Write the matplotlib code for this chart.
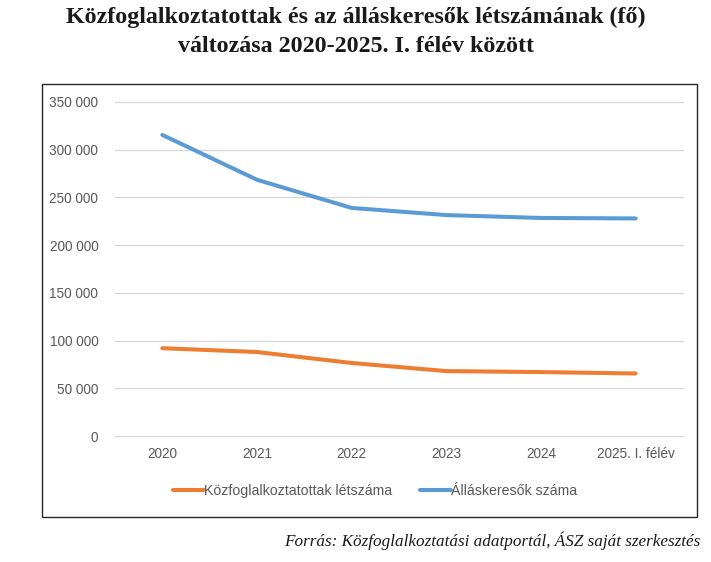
import matplotlib.pyplot as plt
from matplotlib.patches import Rectangle
from matplotlib.ticker import FuncFormatter, MultipleLocator

years = ["2020", "2021", "2022", "2023", "2024", "2025. I. félév"]
kozfoglalkoztatottak = [92000, 88000, 76500, 68000, 67000, 65500]
allaskeresok = [315500, 268500, 239000, 231500, 228500, 228000]

ORANGE = "#ED7D31"
BLUE = "#5B9BD5"
GRID = "#D9D9D9"
LABEL = "#595959"

fig = plt.figure(figsize=(7.11, 5.62), dpi=100)

# frame around the chart
fig.patches.append(Rectangle((42 / 711, 1 - 517 / 562), 655 / 711, 433 / 562,
                             transform=fig.transFigure, fill=False,
                             edgecolor="#262626", linewidth=1.0))

ax = fig.add_axes([115 / 711, 1 - 436 / 562, 568 / 711, 334 / 562])
x = range(len(years))
ax.plot(x, kozfoglalkoztatottak, color=ORANGE, linewidth=2.9,
        solid_capstyle="round", label="Közfoglalkoztatottak létszáma")
ax.plot(x, allaskeresok, color=BLUE, linewidth=2.9,
        solid_capstyle="round", label="Álláskeresők száma")

ax.set_xlim(-0.5, len(years) - 0.5)
ax.set_ylim(0, 350000)
ax.yaxis.set_major_locator(MultipleLocator(50000))
ax.yaxis.set_major_formatter(FuncFormatter(lambda v, p: f"{int(v):,}".replace(",", " ")))
ax.set_xticks(list(x))
ax.set_xticklabels(years)
ax.grid(axis="y", color=GRID, linewidth=1.0)
for gl in ax.get_ygridlines():
    gl.set_clip_on(False)
ax.set_axisbelow(True)
for s in ax.spines.values():
    s.set_visible(False)
ax.tick_params(length=0, labelsize=9.8, labelcolor=LABEL, pad=8)
ax.tick_params(axis="y", pad=12)
for t in ax.get_xticklabels() + ax.get_yticklabels():
    t.set_family("Liberation Sans")

leg = fig.legend(loc="center", bbox_to_anchor=(375 / 711, 1 - 491 / 562), ncol=2,
                 frameon=False, handlelength=2.2, handletextpad=0.0,
                 columnspacing=2.0, prop={"family": "Liberation Sans", "size": 10.2})
for t in leg.get_texts():
    t.set_color(LABEL)

fig.text(0.5, 1 - 17 / 562, "Közfoglalkoztatottak és az álláskeresők létszámának (fő)",
         ha="center", va="center", family="Liberation Serif", weight="bold",
         size=17.3, color="#1a1a1a")
fig.text(0.5, 1 - 47 / 562, "változása 2020-2025. I. félév között",
         ha="center", va="center", family="Liberation Serif", weight="bold",
         size=17.3, color="#1a1a1a")
fig.text(700 / 711, 1 - 541 / 562,
         "Forrás: Közfoglalkoztatási adatportál, ÁSZ saját szerkesztés",
         ha="right", va="center", family="Liberation Serif", style="italic",
         size=12.3, color="#1a1a1a")

fig.savefig("out.png", dpi=100)
